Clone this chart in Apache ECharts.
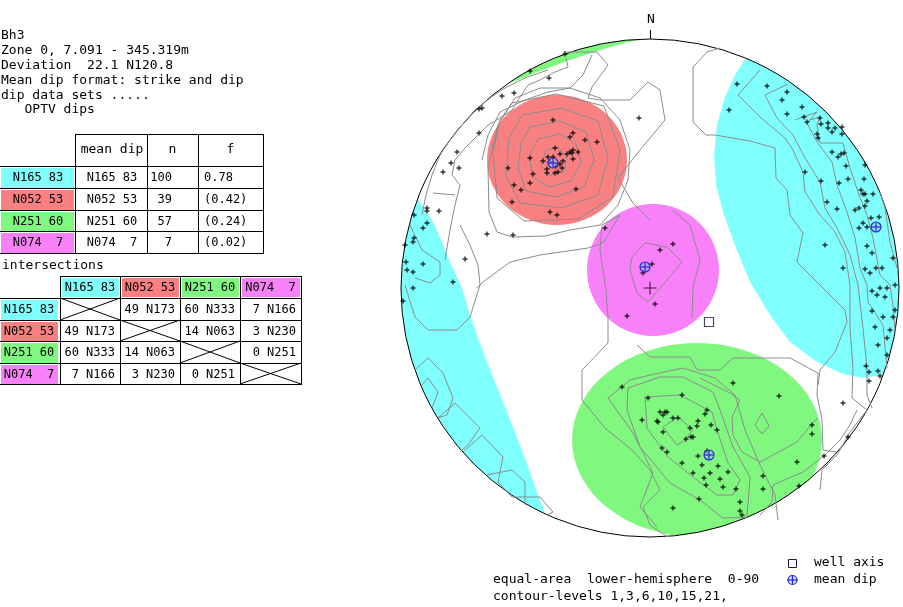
<!DOCTYPE html>
<html>
  <head>
    <meta charset="UTF-8" />
    <title>Bh3 stereonet</title>
    <script src="https://cdn.jsdelivr.net/npm/echarts@6/dist/echarts.min.js"></script>
    <style>
      html, body { margin: 0; padding: 0; background: #fff; }
    </style>
  </head>
  <body>
    <div id="main" style="width:903px;height:607px"></div>
    <script>
      // ---- text blocks ----
      const headerLines = [
        'Bh3',
        'Zone 0, 7.091 - 345.319m',
        'Deviation  22.1 N120.8',
        'Mean dip format: strike and dip',
        'dip data sets .....',
        '   OPTV dips'
      ];
      const footerLines = ['equal-area  lower-hemisphere  0-90', 'contour-levels 1,3,6,10,15,21,'];

      // ---- dip sets ----
      const setNames = ['N165 83', 'N052 53', 'N251 60', 'N074  7'];
      const setCounts = [100, 39, 57, 7];
      const setFractions = ['0.78', '(0.42)', '(0.24)', '(0.02)'];
      const intersections = [
        [null, '49 N173', '60 N333', '7 N166'],
        ['49 N173', null, '14 N063', '3 N230'],
        ['60 N333', '14 N063', null, '0 N251'],
        ['7 N166', '3 N230', '0 N251', null]
      ];

      // ---- stereonet (net units, centre 0,0, north up) ----
      const NET_R = 249;
      const meanDips = [[-97, 125], [226, 61], [-5, 21], [59, -167]];
      const wellAxis = [[59, -34]];
      const netCentre = [[0, 0]];

      // confidence cones: ellipses [cx, cy, rx, ry] and the set each belongs to
      const coneEllipses = [[-93, 128, 70, 65], [3, 18, 66, 66], [47, -152, 125, 97]];
      const coneEllipseSets = [1, 3, 2];
      // cone parts that wrap round the primitive
      const conePolygons = [
        [[98, 233], [85, 213], [75, 191], [67, 163], [64, 133], [66, 103], [74, 73], [86, 40], [100, 6], [120, -27],
         [140, -54], [167, -74], [193, -86], [213, -90], [235, -86], [255, -72], [262, 88], [230, 188], [150, 248]],
        [[-234, 92], [-225, 78], [-217, 66], [-208, 46], [-200, 26], [-188, 0], [-180, -27], [-172, -50], [-163, -74],
         [-153, -99], [-143, -124], [-134, -147], [-125, -170], [-113, -204], [-105, -225], [-120, -257], [-280, -112],
         [-270, 88], [-245, 108]],
        [[-142, 204], [-110, 217], [-77, 229], [-43, 240], [-17, 247], [12, 251], [12, 263], [-150, 228]]
      ];
      const conePolygonSets = [0, 0, 2];

      const poles = [
        // NE-dipping set
        [-97, 168], [-80, 151], [-77, 155], [-65, 148], [-53, 146], [-95, 140], [-90, 134], [-83, 134], [-80, 136],
        [-77, 138], [-72, 136], [-78, 135], [-102, 131], [-97, 131], [-107, 127], [-120, 130], [-77, 129], [-90, 124],
        [-88, 120], [-103, 119], [-95, 115], [-92, 116], [-103, 115], [-142, 120], [-117, 114], [-120, 105], [-136, 103],
        [-129, 98], [-74, 99], [-138, 86], [-100, 76], [-93, 73], [-100, 126], [-94, 122], [-87, 127],
        // scattered north and west
        [-11, 170], [-136, 195], [-148, 192], [-101, 210], [-120, 217], [-85, 234], [-168, 180], [-171, 179], [-171, 155],
        [-193, 136], [-199, 125], [-191, 120], [-207, 116], [-211, 77], [-223, 80], [-223, 77], [-236, 73], [-223, 65],
        [-227, 60], [-236, 50], [-237, 46], [-245, 43], [-163, 54], [-137, 53], [-185, 29], [-244, 26], [-227, 24],
        [-243, 18], [-237, 16], [-237, 0], [-197, 6], [-45, 60], [-247, -13],
        // flat set
        [10, 38], [23, 44], [2, 24], [-7, 15], [5, -16], [-23, -28],
        // steep set
        [87, 204], [79, 178], [117, 202], [137, 196], [132, 188], [137, 174], [152, 181], [154, 171], [157, 166],
        [170, 170], [171, 164], [178, 165], [178, 160], [182, 156], [185, 160], [192, 161], [192, 154], [167, 154],
        [168, 150], [182, 136], [188, 131], [191, 134], [194, 135], [196, 122], [198, 109], [189, 105], [155, 116],
        [171, 107], [177, 86], [187, 79], [205, 78], [209, 80], [211, 98], [213, 94], [215, 94], [223, 94], [215, 123],
        [214, 109], [217, 87], [215, 82], [221, 70], [213, 65], [209, 60], [217, 61], [175, 43], [193, 20], [215, 19],
        [220, 15], [226, 20], [232, 20], [217, 42], [222, 35], [230, 0], [237, 0], [245, 3], [229, 71], [243, 30],
        [222, -3], [227, -7], [235, -9], [222, -23], [233, -29], [245, -22], [243, -29], [225, -39], [240, -42],
        [237, -50], [228, -57], [237, -67], [216, -78], [219, -84], [228, -83], [219, -93], [230, -88], [193, -115],
        [198, -149], [174, -168], [162, -137], [162, -146], [147, -174], [149, -198], [113, -188], [113, -201],
        [129, -108], [83, -95],
        // SW-dipping set
        [32, -107], [-28, -99], [-2, -110], [10, -124], [15, -124], [17, -124], [13, -127], [55, -126], [57, -122],
        [28, -130], [23, -130], [48, -133], [7, -133], [-8, -132], [8, -134], [61, -137], [40, -140], [47, -138],
        [67, -142], [13, -144], [43, -149], [41, -149], [36, -151], [12, -160], [17, -164], [57, -163], [48, -168],
        [32, -175], [52, -177], [68, -178], [78, -184], [43, -185], [60, -185], [54, -190], [56, -197], [70, -191],
        [73, -199], [86, -201], [49, -211], [23, -220], [90, -214], [90, -223], [92, -227]
      ];

      const contours = [
        [[-104, 138], [-92, 141], [-83, 131], [-86, 117], [-100, 112], [-109, 122], [-104, 138]],
        [[-112, 149], [-90, 154], [-74, 144], [-69, 126], [-79, 107], [-101, 101], [-117, 111], [-121, 131], [-112, 149]],
        [[-120, 161], [-90, 167], [-64, 156], [-56, 128], [-66, 101], [-94, 91], [-124, 97], [-132, 120], [-129, 145], [-120, 161]],
        [[-128, 173], [-88, 180], [-52, 167], [-42, 130], [-52, 93], [-88, 80], [-130, 85], [-144, 112], [-141, 150], [-128, 173]],
        [[-138, 185], [-94, 194], [-46, 182], [-30, 138], [-37, 91], [-72, 69], [-126, 67], [-153, 90], [-157, 136], [-150, 168], [-138, 185]],
        [[-162, 121], [-161, 76], [-153, 56], [-138, 51], [-105, 52], [-80, 58], [-50, 63], [-32, 83], [-22, 108], [-20, 138],
         [-30, 168], [-50, 190], [-80, 200], [-110, 200], [-135, 190], [-152, 163], [-162, 121]],
        [[-87, 236], [-53, 236], [-42, 223], [-58, 201], [-62, 190], [-50, 188], [-20, 188], [-2, 206], [10, 198], [15, 168],
         [-10, 138], [-32, 110], [-17, 85], [0, 68]],
        [[-18, 31], [-5, 45], [17, 41], [32, 26], [17, 8], [-2, -14], [-13, -5], [-20, 18], [-18, 31]],
        [[-30, 73], [-48, 63], [-50, 38], [-44, -2], [-42, -29], [-42, -55], [-68, -82], [-68, -112], [-45, -140], [-18, -162],
         [0, -182], [10, -202], [-7, -219], [0, -237], [18, -249]],
        [[22, 78], [40, 63], [50, 28], [43, 1], [42, -30]],
        [[-173, 0], [-167, 6], [-140, 26], [-110, 33], [-62, 40], [-47, 45], [-30, 73]],
        [[-13, -57], [0, -69], [40, -69], [47, -82], [70, -82], [83, -70], [140, -70], [168, -85], [167, -107], [172, -132], [173, -162], [186, -164]],
        [[13, -139], [28, -129], [43, -142], [35, -152], [27, -157], [13, -139]],
        [[-5, -109], [30, -107], [62, -124], [67, -142], [78, -175], [90, -192], [83, -207], [67, -207], [47, -192], [18, -169], [-3, -140], [-5, -109]],
        [[-22, -100], [10, -89], [33, -89], [63, -104], [70, -122], [83, -159], [100, -189], [97, -229], [73, -230], [50, -212],
         [20, -195], [-10, -159], [-23, -122], [-22, -100]],
        [[-42, -110], [-20, -92], [0, -87], [33, -80], [65, -90], [85, -107], [95, -142], [110, -177], [125, -207], [128, -232]],
        [[-42, -110], [-17, -145], [3, -185], [-10, -219], [7, -239]],
        [[50, -90], [80, -105], [90, -112], [82, -129], [83, -147], [92, -164], [110, -174], [147, -154], [167, -130]],
        [[105, -137], [112, -125], [119, -138], [112, -146], [105, -137]],
        [[110, -227], [122, -214], [123, -197], [153, -184], [175, -167], [190, -152], [200, -137], [207, -122]],
        [[70, 240], [57, 236], [43, 221], [43, 166], [56, 153], [65, 153], [100, 147], [125, 140], [126, 110], [137, 98], [140, 73],
         [153, 55], [147, 26], [170, 3], [195, -22], [197, -34], [185, -64], [170, -82], [168, -97]],
        [[110, 218], [88, 193], [110, 171], [135, 150], [143, 138], [153, 116], [155, 96], [170, 73], [185, 56], [195, 36], [200, 3],
         [200, -40], [203, -80], [202, -110], [217, -122]],
        [[138, 204], [115, 193], [127, 170], [143, 153], [155, 130], [170, 106], [175, 80], [187, 60], [200, 33], [208, 3], [213, -40],
         [217, -80], [217, -107], [222, -120]],
        [[145, 168], [167, 176], [157, 165], [167, 146], [182, 126], [187, 103], [197, 76], [205, 50], [210, 20], [217, 3], [218, -14],
         [233, -37], [237, -80]],
        [[160, 168], [170, 171], [167, 163], [170, 145], [193, 145], [200, 120], [208, 96], [217, 73], [223, 50], [230, 13], [240, 3],
         [243, -17], [245, -42]],
        [[230, 96], [235, 80], [240, 46], [247, 20]],
        [[217, -122], [200, -144], [187, -167], [172, -182], [170, -202]],
        [[-102, 218], [-125, 210], [-145, 200], [-160, 190], [-175, 178], [-188, 163], [-200, 148], [-210, 133], [-218, 113], [-224, 93], [-228, 73]],
        [[-84, 230], [-82, 221], [-95, 216], [-110, 208], [-122, 203], [-130, 191], [-138, 178], [-150, 170], [-162, 163], [-172, 153],
         [-185, 140], [-195, 128], [-198, 113], [-190, 103], [-195, 83], [-200, 58], [-205, 28]],
        [[-58, 233], [-67, 213], [-80, 200], [-102, 196], [-125, 188], [-150, 176], [-162, 153], [-168, 128]],
        [[-217, 95], [-195, 93]],
        [[-240, 63], [-228, 38], [-210, 26], [-210, 13], [-220, 5], [-235, 10]],
        [[-245, 3], [-235, -29], [-222, -42], [-193, -42], [-180, -29], [-170, 3], [-172, 23], [-180, 43], [-190, 63]],
        [[-235, -82], [-222, -70], [-207, -85], [-197, -110], [-203, -127], [-212, -130]],
        [[-228, -97], [-222, -90], [-212, -104], [-218, -120]],
        [[-212, -130], [-195, -115], [-170, -140], [-182, -157], [-190, -164]],
        [[-187, -164], [-168, -147], [-147, -169], [-152, -194], [-138, -209], [-110, -209], [-97, -224], [-103, -227]],
        [[-163, -187], [-138, -182], [-125, -194], [-125, -217]]
      ];

      // ---- styles ----
      const setColors = ['#80ffff', '#f88080', '#80f880', '#f880f8'];
      const FONT = '13px "DejaVu Sans Mono"';
      const TFONT = '12px "DejaVu Sans Mono"';
      const DIP_BLUE = '#2a2ad0';
      const DIP_FILL = 'rgba(150,190,255,0.55)';
      const plusPath = 'path://M1.8,0h1.4v1.8h1.8v1.4h-1.8v1.8h-1.4v-1.8h-1.8v-1.4h1.8z';
      const bigPlusPath = 'path://M6,0h1v6h6v1h-6v6h-1v-6h-6v-1h6z';

      const graphics = [];
      const text = (x, y, s, align, font) => graphics.push({
        type: 'text', z: 100, silent: true,
        style: { text: s, x, y, font: font || FONT, fill: '#000', align: align || 'left', verticalAlign: 'middle' }
      });
      const hline = (x1, x2, y) => graphics.push({
        type: 'line', z: 100, silent: true,
        shape: { x1, y1: y + 0.5, x2, y2: y + 0.5 }, style: { stroke: '#000', lineWidth: 1 }
      });
      const vline = (x, y1, y2) => graphics.push({
        type: 'line', z: 100, silent: true,
        shape: { x1: x + 0.5, y1, x2: x + 0.5, y2 }, style: { stroke: '#000', lineWidth: 1 }
      });
      const box = (x, y, w, h, fill) => graphics.push({
        type: 'rect', z: 99, silent: true, shape: { x, y, width: w, height: h }, style: { fill }
      });

      headerLines.forEach((s, i) => text(1, 36 + i * 14.8, s));

      // mean dip table
      const t1x = [0, 75, 147, 198, 263];
      const t1y = [134, 166, 188, 210, 231, 253];
      hline(t1x[1], t1x[4] + 1, t1y[0]);
      for (let i = 1; i < t1y.length; i++) hline(0, t1x[4] + 1, t1y[i]);
      for (let j = 1; j < t1x.length; j++) vline(t1x[j], t1y[0], t1y[5] + 1);
      text((t1x[1] + t1x[2]) / 2 + 1, 150, 'mean dip', 'center');
      text((t1x[2] + t1x[3]) / 2, 150, 'n', 'center');
      text((t1x[3] + t1x[4]) / 2, 150, 'f', 'center');
      setNames.forEach((name, i) => {
        const top = t1y[i + 1], bot = t1y[i + 2], cy = (top + bot) / 2 + 1;
        box(1, top + 2, 73, bot - top - 2, setColors[i]);
        text(38, cy, name, 'center', TFONT);
        text(112, cy, name, 'center', TFONT);
        text(172, cy, String(setCounts[i]), 'right', TFONT);
        text(204, cy, setFractions[i], 'left', TFONT);
      });

      // intersection table
      text(2, 266, 'intersections');
      const t2x = [0, 60, 120, 180, 240, 301];
      const t2y = [276, 298, 320, 341, 363, 384];
      hline(t2x[1], t2x[5] + 1, t2y[0]);
      for (let i = 1; i < t2y.length; i++) hline(0, t2x[5] + 1, t2y[i]);
      for (let j = 1; j < t2x.length; j++) vline(t2x[j], t2y[0], t2y[5] + 1);
      setNames.forEach((name, j) => {
        const x0 = t2x[j + 1], x1 = t2x[j + 2];
        box(x0 + 2, t2y[0] + 2, x1 - x0 - 3, t2y[1] - t2y[0] - 3, setColors[j]);
        text((x0 + x1) / 2, (t2y[0] + t2y[1]) / 2 + 1, name, 'center', TFONT);
      });
      intersections.forEach((row, i) => {
        const top = t2y[i + 1], bot = t2y[i + 2], cy = (top + bot) / 2 + 1;
        box(1, top + 2, 57, bot - top - 2, setColors[i]);
        text(29, cy, setNames[i], 'center', TFONT);
        row.forEach((val, j) => {
          const x0 = t2x[j + 1], x1 = t2x[j + 2];
          if (val === null) {
            graphics.push({ type: 'line', z: 100, silent: true, shape: { x1: x0, y1: top, x2: x1, y2: bot }, style: { stroke: '#000', lineWidth: 1 } });
            graphics.push({ type: 'line', z: 100, silent: true, shape: { x1: x0, y1: bot, x2: x1, y2: top }, style: { stroke: '#000', lineWidth: 1 } });
          } else {
            text(x1 - 5, cy, val, 'right', TFONT);
          }
        });
      });

      // footer and key
      text(493, 580, footerLines[0]);
      text(493, 597, footerLines[1]);
      text(814, 563, 'well axis');
      text(814, 580, 'mean dip');
      graphics.push({ type: 'rect', z: 100, silent: true, shape: { x: 788.5, y: 559.5, width: 8, height: 8 }, style: { fill: 'none', stroke: '#1a1a4a', lineWidth: 1 } });
      graphics.push({ type: 'circle', z: 100, silent: true, shape: { cx: 792.5, cy: 580, r: 4.5 }, style: { fill: DIP_FILL, stroke: DIP_BLUE, lineWidth: 1.2 } });
      graphics.push({ type: 'line', z: 100, silent: true, shape: { x1: 787.5, y1: 580, x2: 797.5, y2: 580 }, style: { stroke: DIP_BLUE, lineWidth: 1.2 } });
      graphics.push({ type: 'line', z: 100, silent: true, shape: { x1: 792.5, y1: 575, x2: 792.5, y2: 585 }, style: { stroke: DIP_BLUE, lineWidth: 1.2 } });

      const chart = echarts.init(document.getElementById('main'));
      chart.setOption({
        animation: false,
        backgroundColor: '#fff',
        grid: { left: 401, top: 39, width: 498, height: 498 },
        xAxis: { type: 'value', min: -NET_R, max: NET_R, show: false },
        yAxis: { type: 'value', min: -NET_R, max: NET_R, show: false },
        graphic: graphics,
        series: [
          {
            type: 'custom', z: 1, silent: true,
            data: conePolygons.map((p, i) => [i]),
            renderItem: (params, api) => ({
              type: 'polygon',
              shape: { points: conePolygons[params.dataIndex].map(p => api.coord(p)) },
              style: { fill: setColors[conePolygonSets[params.dataIndex]] }
            })
          },
          {
            type: 'custom', z: 1, silent: true,
            data: coneEllipses,
            encode: { x: 0, y: 1 },
            renderItem: (params, api) => {
              const c = api.coord([api.value(0), api.value(1)]);
              const s = api.size([api.value(2), api.value(3)]);
              return {
                type: 'circle', x: c[0], y: c[1], scaleX: s[0] / s[1],
                shape: { cx: 0, cy: 0, r: s[1] },
                style: { fill: setColors[coneEllipseSets[params.dataIndex]] }
              };
            }
          },
          {
            // white surround, primitive circle and north mark
            type: 'custom', z: 2, silent: true,
            data: netCentre,
            encode: { x: 0, y: 1 },
            renderItem: (params, api) => {
              const c = api.coord([0, 0]);
              const r = api.size([NET_R, NET_R])[0];
              const n0 = api.coord([0, NET_R]);
              const n1 = api.coord([0, NET_R + 9]);
              const nl = api.coord([0, NET_R + 19]);
              return {
                type: 'group',
                children: [
                  { type: 'ring', shape: { cx: c[0], cy: c[1], r0: r, r: r + 80 }, style: { fill: '#fff' } },
                  { type: 'circle', shape: { cx: c[0], cy: c[1], r }, style: { fill: 'none', stroke: '#000', lineWidth: 1 } },
                  { type: 'line', shape: { x1: n0[0] + 0.5, y1: n0[1], x2: n1[0] + 0.5, y2: n1[1] }, style: { stroke: '#000', lineWidth: 1 } },
                  { type: 'text', style: { text: 'N', x: nl[0] + 1, y: nl[1], font: FONT, fill: '#000', align: 'center', verticalAlign: 'middle' } }
                ]
              };
            }
          },
          {
            type: 'lines', coordinateSystem: 'cartesian2d', polyline: true, z: 3, silent: true,
            lineStyle: { color: '#8c8c8c', width: 1, opacity: 1 },
            data: contours.map(c => ({ coords: c }))
          },
          {
            type: 'scatter', z: 4, silent: true,
            symbol: plusPath, symbolSize: 5,
            itemStyle: { color: '#000' },
            data: poles
          },
          {
            type: 'scatter', z: 4, silent: true,
            symbol: bigPlusPath, symbolSize: 13,
            itemStyle: { color: '#000' },
            data: netCentre
          },
          {
            type: 'scatter', z: 4, silent: true,
            symbol: 'rect', symbolSize: 9,
            itemStyle: { color: 'rgba(0,0,0,0)', borderColor: '#1a1a4a', borderWidth: 1.2 },
            data: wellAxis
          },
          {
            type: 'custom', z: 5, silent: true,
            data: meanDips,
            encode: { x: 0, y: 1 },
            renderItem: (params, api) => {
              const p = api.coord([api.value(0), api.value(1)]);
              const st = { stroke: DIP_BLUE, lineWidth: 1.2, fill: 'none' };
              return {
                type: 'group',
                children: [
                  { type: 'circle', shape: { cx: p[0], cy: p[1], r: 5 }, style: { stroke: DIP_BLUE, lineWidth: 1.2, fill: DIP_FILL } },
                  { type: 'line', shape: { x1: p[0] - 5, y1: p[1], x2: p[0] + 5, y2: p[1] }, style: st },
                  { type: 'line', shape: { x1: p[0], y1: p[1] - 5, x2: p[0], y2: p[1] + 5 }, style: st }
                ]
              };
            }
          }
        ]
      });
    </script>
  </body>
</html>
